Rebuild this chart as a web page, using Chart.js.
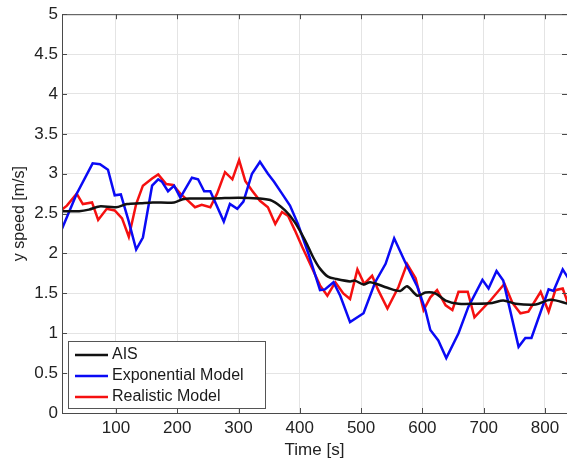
<!DOCTYPE html>
<html>
<head>
<meta charset="utf-8">
<script src="https://cdn.jsdelivr.net/npm/chart.js@4/dist/chart.umd.min.js"></script>
<style>
  html, body { margin: 0; padding: 0; background: #fff; }
  #wrap { width: 568px; height: 461px; position: relative; }
</style>
</head>
<body>
<div id="wrap"><canvas id="c" width="568" height="461"></canvas></div>
<script>
const aisTime = [12, 40, 56, 73, 100, 118, 140, 160, 195, 209, 220, 260, 300, 332, 355, 376, 392, 409, 422, 433, 446, 460, 482, 490, 504, 515, 543, 564, 575, 592, 605, 621, 638, 659, 687, 714, 732, 752, 785, 809, 838];
const aisSpeed = [2.53, 2.53, 2.55, 2.59, 2.58, 2.62, 2.63, 2.64, 2.64, 2.68, 2.69, 2.69, 2.70, 2.69, 2.66, 2.54, 2.39, 2.16, 1.95, 1.81, 1.71, 1.68, 1.65, 1.66, 1.61, 1.64, 1.57, 1.53, 1.59, 1.47, 1.51, 1.50, 1.41, 1.37, 1.37, 1.38, 1.41, 1.37, 1.36, 1.42, 1.37];

const expTime = [12, 36, 62, 74, 87, 98, 108, 121, 133, 144, 159, 169, 175, 185, 195, 205, 224, 234, 244, 254, 276, 286, 298, 308, 322, 335, 348, 358, 371, 384, 397, 414, 433, 441, 455, 466, 482, 504, 523, 540, 554, 572, 592, 605, 613, 626, 639, 659, 675, 698, 708, 721, 732, 757, 768, 778, 806, 814, 829, 838];
const expSpeed = [2.31, 2.75, 3.13, 3.12, 3.05, 2.73, 2.74, 2.40, 2.05, 2.20, 2.85, 2.93, 2.90, 2.78, 2.85, 2.70, 2.95, 2.93, 2.78, 2.78, 2.40, 2.62, 2.56, 2.65, 3.00, 3.15, 3.00, 2.90, 2.75, 2.60, 2.37, 2.00, 1.54, 1.55, 1.64, 1.47, 1.14, 1.25, 1.64, 1.87, 2.19, 1.89, 1.58, 1.29, 1.04, 0.91, 0.69, 1.00, 1.33, 1.67, 1.56, 1.78, 1.66, 0.83, 0.94, 0.94, 1.55, 1.53, 1.80, 1.69];

const realTime = [12, 20, 36, 46, 61, 71, 85, 98, 110, 121, 133, 144, 159, 169, 182, 193, 205, 218, 229, 240, 254, 265, 278, 290, 301, 311, 322, 335, 348, 360, 371, 381, 392, 404, 412, 433, 445, 458, 471, 482, 494, 505, 518, 528, 543, 561, 575, 589, 602, 613, 624, 638, 649, 659, 674, 685, 711, 734, 747, 760, 773, 793, 806, 817, 829, 838];
const realSpeed = [2.55, 2.60, 2.75, 2.62, 2.64, 2.42, 2.56, 2.54, 2.44, 2.21, 2.62, 2.85, 2.94, 2.99, 2.87, 2.86, 2.75, 2.66, 2.58, 2.61, 2.58, 2.75, 3.02, 2.93, 3.17, 2.91, 2.79, 2.66, 2.58, 2.37, 2.52, 2.47, 2.29, 2.08, 1.95, 1.60, 1.47, 1.64, 1.50, 1.43, 1.80, 1.62, 1.72, 1.54, 1.31, 1.58, 1.87, 1.69, 1.29, 1.45, 1.54, 1.35, 1.29, 1.52, 1.52, 1.20, 1.41, 1.62, 1.38, 1.25, 1.27, 1.52, 1.27, 1.54, 1.56, 1.37];

const xTicks = [100, 200, 300, 400, 500, 600, 700, 800];
const yTicks = [0, 0.5, 1, 1.5, 2, 2.5, 3, 3.5, 4, 4.5, 5];
const seriesNames = ['AIS', 'Exponential Model', 'Realistic Model'];

const toPts = (xs, ys) => xs.map((x, i) => ({ x: x, y: ys[i] }));
const FONT = "'Liberation Sans', Arial, sans-serif";

const frame = {
  id: 'frame',
  afterDatasetsDraw(chart) {
    const { ctx, chartArea: a } = chart;
    ctx.save();
    ctx.strokeStyle = '#4a4a4a';
    ctx.lineWidth = 1;
    ctx.beginPath();
    ctx.moveTo(a.left + 0.5, a.top + 0.5);
    ctx.lineTo(a.right, a.top + 0.5);
    ctx.moveTo(a.left + 0.5, a.top);
    ctx.lineTo(a.left + 0.5, a.bottom + 0.5);
    ctx.lineTo(a.right, a.bottom + 0.5);
    ctx.stroke();
    const xs = chart.scales.x, ys = chart.scales.y;
    ctx.beginPath();
    xTicks.forEach(v => {
      const px = Math.round(xs.getPixelForValue(v)) + 0.5;
      ctx.moveTo(px, a.bottom); ctx.lineTo(px, a.bottom - 5);
      ctx.moveTo(px, a.top); ctx.lineTo(px, a.top + 5);
    });
    yTicks.forEach(v => {
      const py = Math.round(ys.getPixelForValue(v)) + 0.5;
      ctx.moveTo(a.left, py); ctx.lineTo(a.left + 5, py);
      ctx.moveTo(a.right, py); ctx.lineTo(a.right - 5, py);
    });
    ctx.stroke();

    const bx = 68, by = 341, bw = 197, bh = 67;
    ctx.fillStyle = '#ffffff';
    ctx.fillRect(bx, by, bw, bh);
    ctx.strokeStyle = '#555';
    ctx.strokeRect(bx + 0.5, by + 0.5, bw, bh);
    ctx.font = '16px ' + FONT;
    ctx.textBaseline = 'middle';
    chart.data.datasets.forEach((ds, i) => {
      const yy = by + 14 + i * 21;
      ctx.strokeStyle = ds.borderColor;
      ctx.lineWidth = 2.5;
      ctx.beginPath();
      ctx.moveTo(75, yy); ctx.lineTo(108, yy);
      ctx.stroke();
      ctx.fillStyle = '#1a1a1a';
      ctx.fillText(ds.label, 112, yy);
    });
    ctx.restore();
  }
};

new Chart(document.getElementById('c'), {
  type: 'line',
  data: {
    datasets: [
      { label: seriesNames[0], data: toPts(aisTime, aisSpeed), borderColor: '#111111', borderWidth: 2.5, pointRadius: 0, tension: 0.3, fill: false },
      { label: seriesNames[1], data: toPts(expTime, expSpeed), borderColor: '#0a0af5', borderWidth: 2.5, pointRadius: 0, tension: 0, fill: false },
      { label: seriesNames[2], data: toPts(realTime, realSpeed), borderColor: '#f51010', borderWidth: 2.5, pointRadius: 0, tension: 0, fill: false }
    ]
  },
  options: {
    responsive: false,
    animation: false,
    layout: { padding: { top: 13, right: 1, left: 10, bottom: 0 } },
    plugins: { legend: { display: false }, tooltip: { enabled: false } },
    scales: {
      x: {
        type: 'linear', min: 12, max: 836,
        afterBuildTicks: s => { s.ticks = xTicks.map(v => ({ value: v })); },
        afterFit: s => { s.height = 48; },
        border: { display: false },
        grid: { color: '#e4e4e4', lineWidth: 1, drawTicks: false },
        ticks: { font: { size: 17, family: FONT }, color: '#222', padding: 5, callback: v => String(v) },
        title: { display: true, text: 'Time [s]', font: { size: 17, family: FONT }, color: '#222', padding: { top: 0, bottom: 0 } }
      },
      y: {
        min: 0, max: 5,
        afterBuildTicks: s => { s.ticks = yTicks.map(v => ({ value: v })); },
        afterFit: s => { s.width = 52; },
        border: { display: false },
        grid: { color: '#e4e4e4', lineWidth: 1, drawTicks: false },
        ticks: { font: { size: 17, family: FONT }, color: '#222', padding: 4, callback: v => String(v) },
        title: { display: true, text: 'y speed [m/s]', font: { size: 16, family: FONT }, color: '#222', padding: { top: 0, bottom: 0 } }
      }
    }
  },
  plugins: [frame]
});
</script>
</body>
</html>
